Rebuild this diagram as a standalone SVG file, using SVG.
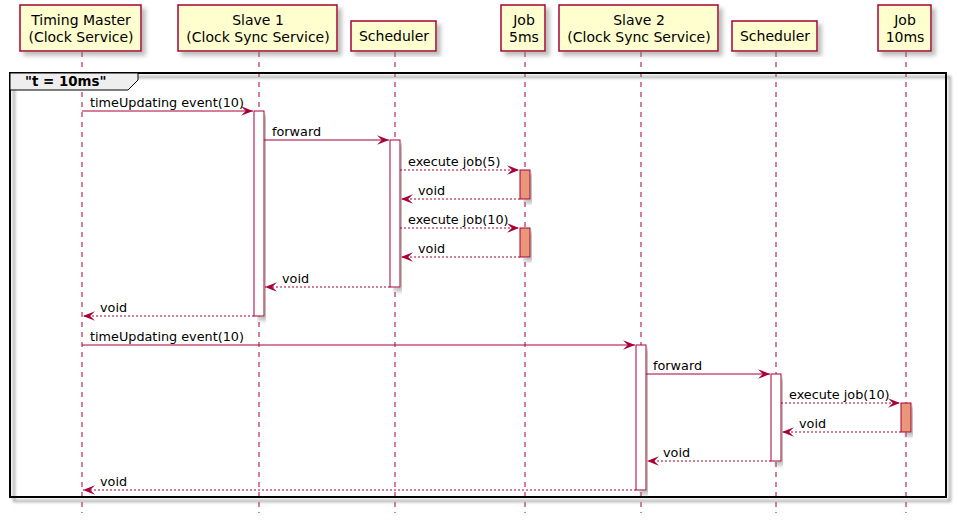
<svg xmlns="http://www.w3.org/2000/svg" width="958" height="521" viewBox="0 0 958 521">
<defs>
<filter id="sh" x="-10%" y="-10%" width="130%" height="130%">
<feGaussianBlur in="SourceAlpha" stdDeviation="2" result="b"/>
<feOffset dx="4" dy="4" in="b" result="o"/>
<feColorMatrix in="o" type="matrix" values="0 0 0 0 0.2  0 0 0 0 0.2  0 0 0 0 0.2  0 0 0 0.5 0" result="c"/>
<feMerge><feMergeNode in="c"/><feMergeNode in="SourceGraphic"/></feMerge>
</filter>
<filter id="shf" x="-5%" y="-5%" width="110%" height="115%">
<feGaussianBlur in="SourceAlpha" stdDeviation="1.5" result="b"/>
<feOffset dx="4" dy="4" in="b" result="o"/>
<feColorMatrix in="o" type="matrix" values="0 0 0 0 0.2  0 0 0 0 0.2  0 0 0 0 0.2  0 0 0 0.75 0" result="c"/>
<feMerge><feMergeNode in="c"/><feMergeNode in="SourceGraphic"/></feMerge>
</filter>
<marker id="ah" markerUnits="userSpaceOnUse" markerWidth="12" markerHeight="10" viewBox="0 0 10 8" refX="10" refY="4" orient="auto-start-reverse">
<polygon points="0,0 10,4 0,8 4,4" fill="#A80036"/>
</marker>
</defs>
<style>
.life{stroke:#A80036;stroke-width:1;stroke-dasharray:5,5;fill:none}
.part{fill:#FEFECE;stroke:#A80036;stroke-width:1.5}
.pt{font-family:"DejaVu Sans",sans-serif;font-size:14px;fill:#000;text-anchor:middle}
.act{fill:#FFFFFF;stroke:#A80036;stroke-width:1}
.job{fill:#E9967A;stroke:#A80036;stroke-width:1}
.msg{stroke:#A80036;stroke-width:1;fill:none;marker-end:url(#ah)}
.ret{stroke:#A80036;stroke-width:1;stroke-dasharray:2,2;fill:none;marker-end:url(#ah)}
.mt{font-family:"DejaVu Sans",sans-serif;font-size:12.8px;fill:#000}
</style>
<g id="lifelines">
<line class="life" x1="82" y1="52" x2="82" y2="513"/>
<line class="life" x1="259" y1="52" x2="259" y2="513"/>
<line class="life" x1="395" y1="52" x2="395" y2="513"/>
<line class="life" x1="525" y1="52" x2="525" y2="513"/>
<line class="life" x1="641" y1="52" x2="641" y2="513"/>
<line class="life" x1="776" y1="52" x2="776" y2="513"/>
<line class="life" x1="906" y1="52" x2="906" y2="513"/>
</g>
<g id="frame">
<rect x="10" y="73" width="936" height="424" fill="none" stroke="#000" stroke-width="2" filter="url(#shf)"/>
<polygon points="10,73 138,73 138,80 128,90 10,90" fill="#EEEEEE" stroke="#000" stroke-width="1"/>
<text x="25" y="86" font-family="DejaVu Sans, sans-serif" font-size="13.4" font-weight="bold">"t = 10ms"</text>
</g>
<g id="timing-master">
<rect class="part" x="20" y="5" width="121" height="46" filter="url(#sh)"/>
<text class="pt" x="81" y="25">Timing Master</text>
<text class="pt" x="81" y="41.5">(Clock Service)</text>
</g>
<g id="slave1">
<rect class="part" x="178" y="5" width="159" height="46" filter="url(#sh)"/>
<text class="pt" x="258" y="25">Slave 1</text>
<text class="pt" x="258" y="41.5">(Clock Sync Service)</text>
</g>
<g id="scheduler1">
<rect class="part" x="351" y="21" width="85" height="30" filter="url(#sh)"/>
<text class="pt" x="394" y="41">Scheduler</text>
</g>
<g id="job5ms">
<rect class="part" x="501" y="5" width="44" height="46" filter="url(#sh)"/>
<text class="pt" x="524" y="25">Job</text>
<text class="pt" x="524" y="41.5">5ms</text>
</g>
<g id="slave2">
<rect class="part" x="559" y="5" width="159" height="46" filter="url(#sh)"/>
<text class="pt" x="639" y="25">Slave 2</text>
<text class="pt" x="639" y="41.5">(Clock Sync Service)</text>
</g>
<g id="scheduler2">
<rect class="part" x="732" y="21" width="85" height="30" filter="url(#sh)"/>
<text class="pt" x="775" y="41">Scheduler</text>
</g>
<g id="job10ms">
<rect class="part" x="878" y="5" width="53" height="46" filter="url(#sh)"/>
<text class="pt" x="905" y="25">Job</text>
<text class="pt" x="905" y="41.5">10ms</text>
</g>
<g id="activations">
<rect class="act" x="254" y="111" width="10" height="205" filter="url(#sh)"/>
<rect class="act" x="390" y="140" width="10" height="147" filter="url(#sh)"/>
<rect class="job" x="520" y="170" width="10" height="29" filter="url(#sh)"/>
<rect class="job" x="520" y="228" width="10" height="29" filter="url(#sh)"/>
<rect class="act" x="636" y="345" width="10" height="145" filter="url(#sh)"/>
<rect class="act" x="771" y="374" width="10" height="87" filter="url(#sh)"/>
<rect class="job" x="901" y="403" width="10" height="29" filter="url(#sh)"/>
</g>
<g id="connectors">
<line class="msg" x1="82" y1="111" x2="253" y2="111"/>
<text class="mt" x="90" y="106.5">timeUpdating event(10)</text>
<line class="msg" x1="264" y1="140" x2="389" y2="140"/>
<text class="mt" x="272" y="135.5">forward</text>
<line class="ret" x1="400" y1="170" x2="519" y2="170"/>
<text class="mt" x="408" y="165.5">execute job(5)</text>
<line class="ret" x1="520" y1="199" x2="401" y2="199"/>
<text class="mt" x="418" y="194.5">void</text>
<line class="ret" x1="400" y1="228" x2="519" y2="228"/>
<text class="mt" x="408" y="223.5">execute job(10)</text>
<line class="ret" x1="520" y1="257" x2="401" y2="257"/>
<text class="mt" x="418" y="252.5">void</text>
<line class="ret" x1="390" y1="287" x2="265" y2="287"/>
<text class="mt" x="282" y="282.5">void</text>
<line class="ret" x1="254" y1="316" x2="83" y2="316"/>
<text class="mt" x="100" y="311.5">void</text>
<line class="msg" x1="82" y1="345" x2="635" y2="345"/>
<text class="mt" x="90" y="340.5">timeUpdating event(10)</text>
<line class="msg" x1="646" y1="374" x2="770" y2="374"/>
<text class="mt" x="653" y="369.5">forward</text>
<line class="ret" x1="781" y1="403" x2="900" y2="403"/>
<text class="mt" x="789" y="398.5">execute job(10)</text>
<line class="ret" x1="901" y1="432" x2="782" y2="432"/>
<text class="mt" x="799" y="427.5">void</text>
<line class="ret" x1="771" y1="461" x2="647" y2="461"/>
<text class="mt" x="663" y="456.5">void</text>
<line class="ret" x1="636" y1="490" x2="83" y2="490"/>
<text class="mt" x="100" y="485.5">void</text>
</g>
</svg>
